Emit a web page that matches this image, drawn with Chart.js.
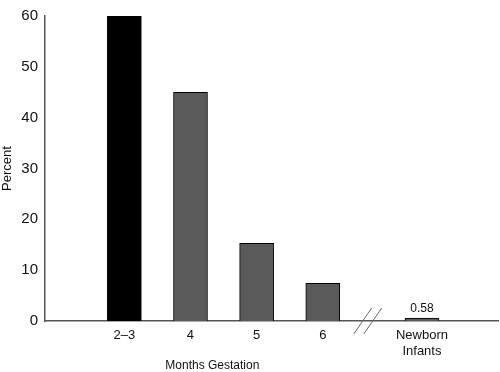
<!DOCTYPE html>
<html lang="en">
<head>
    <meta charset="UTF-8">
    <title>Months Gestation</title>
    <script src="https://cdn.jsdelivr.net/npm/chart.js"></script>
    <style>
        html, body { margin: 0; padding: 0; background: #fff; }
        #wrap { width: 500px; height: 372px; }
    </style>
</head>
<body>
    <div id="wrap">
        <canvas id="gestChart" width="500" height="372"></canvas>
    </div>

    <script>
        // Dữ liệu
        const categories = ["2\u20133", "4", "5", "6", ["Newborn", "Infants"]];
        const positions = [1, 2, 3, 4, 5.5];   // trục bị ngắt giữa 6 và Newborn
        const percentValues = [60, 45, 15.3, 7.4, 0.58];
        const yTicks = [0, 10, 20, 30, 40, 50, 60];
        const barColors = ["#000000", "#5a5a5a", "#5a5a5a", "#5a5a5a", "#5a5a5a"];

        const FONT = "'Liberation Sans', Arial, sans-serif";

        // Nhãn 0.58, dấu ngắt trục, tiêu đề trục x
        const extras = {
            id: "extras",
            afterDatasetsDraw(chart) {
                const ctx = chart.ctx;
                const meta = chart.getDatasetMeta(0);
                const x = chart.scales.x;
                const y = chart.scales.y;
                ctx.save();
                ctx.fillStyle = "#111";
                ctx.font = "12px " + FONT;
                ctx.textAlign = "center";
                ctx.textBaseline = "bottom";
                const last = meta.data[meta.data.length - 1];
                ctx.fillText(String(percentValues[percentValues.length - 1]), last.x, last.y - 3);

                // dấu ngắt //
                const bx = x.getPixelForValue(4.68);
                const by = y.getPixelForValue(0);
                ctx.strokeStyle = "#666";
                ctx.lineWidth = 1;
                [-5, 5].forEach(off => {
                    ctx.beginPath();
                    ctx.moveTo(bx + off - 9, by + 13);
                    ctx.lineTo(bx + off + 9, by - 13);
                    ctx.stroke();
                });

                ctx.textBaseline = "middle";
                ctx.font = "12px " + FONT;
                ctx.fillText("Months Gestation", x.getPixelForValue(2.33), 366);
                ctx.restore();
            }
        };

        new Chart("gestChart", {
            type: "bar",
            data: {
                datasets: [{
                    data: positions.map((p, i) => ({ x: p, y: percentValues[i] })),
                    backgroundColor: barColors,
                    borderColor: "#000",
                    borderWidth: 1,
                    barThickness: 34
                }]
            },
            options: {
                responsive: false,
                animation: false,
                layout: { padding: { top: 6, right: 2, left: 0, bottom: 0 } },
                plugins: {
                    legend: { display: false },
                    tooltip: { enabled: false }
                },
                scales: {
                    x: {
                        type: "linear",
                        offset: false,
                        min: -0.2,
                        max: 6.65,
                        grid: { display: false, drawTicks: false, offset: false },
                        border: { color: "#555", width: 1.5 },
                        afterBuildTicks(scale) {
                            scale.ticks = positions.map(p => ({ value: p }));
                        },
                        afterFit(scale) { scale.height = 51; },
                        ticks: {
                            autoSkip: false,
                            maxRotation: 0,
                            padding: 7,
                            color: "#111",
                            font: { family: FONT, size: 13 },
                            callback: (v) => categories[positions.indexOf(v)]
                        }
                    },
                    y: {
                        min: 0,
                        max: 60,
                        grid: { display: false, drawTicks: false },
                        border: { color: "#555", width: 1.5 },
                        afterBuildTicks(scale) {
                            scale.ticks = yTicks.map(v => ({ value: v }));
                        },
                        afterFit(scale) { scale.width = 45; },
                        ticks: {
                            padding: 7,
                            color: "#111",
                            font: { family: FONT, size: 15 }
                        },
                        title: {
                            display: true,
                            text: "Percent",
                            color: "#111",
                            padding: { top: 0, bottom: 0 },
                            font: { family: FONT, size: 13 }
                        }
                    }
                }
            },
            plugins: [extras]
        });
    </script>
</body>
</html>
